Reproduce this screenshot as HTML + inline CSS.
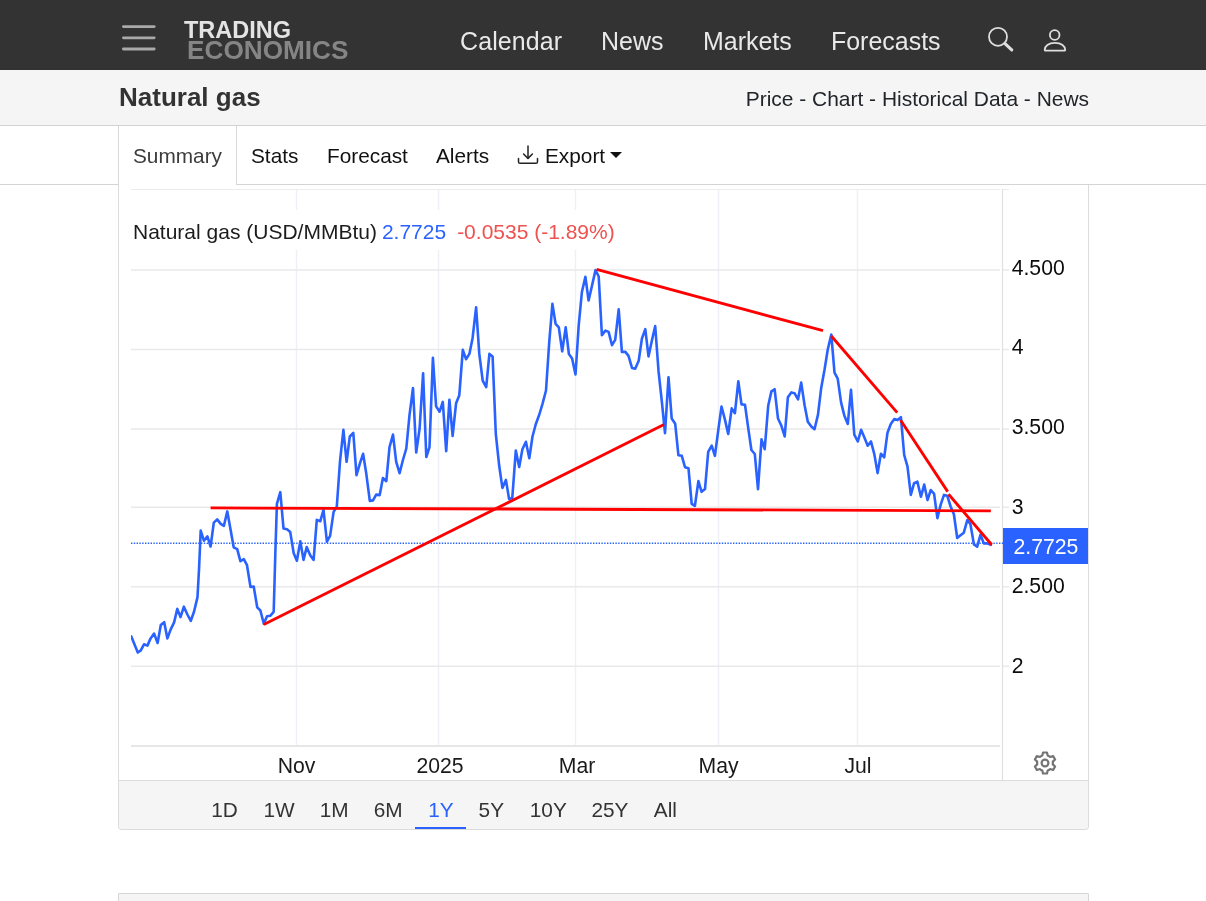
<!DOCTYPE html>
<html lang="en"><head><meta charset="utf-8"><title>Natural gas - Price - Chart - Historical Data - News</title>
<style>
html,body{margin:0;padding:0}
body{width:1206px;height:901px;overflow:hidden;background:#fff;font-family:"Liberation Sans",Arial,sans-serif;color:#212529;position:relative}
.abs{position:absolute}
#top{position:absolute;left:0;top:0;width:1206px;height:70px;background:#333}
.nav{position:absolute;top:27px;font-size:24.96px;line-height:28px;color:#e9e9e9;white-space:nowrap}
.logo1{position:absolute;left:184px;top:17px;font-weight:bold;font-size:23.5px;line-height:26px;color:#e4e4e4}
.logo2{position:absolute;left:187px;top:35px;font-weight:bold;font-size:26.2px;line-height:30px;color:#858585}
#sub{position:absolute;left:0;top:70px;width:1206px;height:55px;background:#f5f5f5;border-bottom:1px solid #d2d2d2}
#title{position:absolute;left:119px;top:82px;font-size:26px;line-height:30px;font-weight:bold;color:#333}
#crumbs{position:absolute;right:117px;top:86px;font-size:20.94px;line-height:26px;color:#212529;white-space:nowrap}
#tabline{position:absolute;left:0;top:184px;width:1206px;height:1px;background:#d4d4d4}
#acttab{position:absolute;left:118px;top:126px;width:119px;height:59px;background:#fff;border-left:1px solid #d9d9d9;border-right:1px solid #d9d9d9;box-sizing:border-box}
.tab{position:absolute;top:143px;font-size:20.8px;line-height:26px;color:#111;white-space:nowrap}
#card{position:absolute;left:118px;top:185px;width:971px;height:645px;box-sizing:border-box;border:1px solid #dcdcdc;border-top:none;border-radius:0 0 4px 4px;background:#fff}
#foot{position:absolute;left:119px;top:780px;width:969px;height:49px;background:#f5f5f5;border-top:1px solid #dcdcdc;box-sizing:border-box;border-radius:0 0 4px 4px}
.rb{position:absolute;top:797.5px;font-size:20.8px;line-height:24px;color:#333;white-space:nowrap;transform:translateX(-50%)}
.rb.act{color:#2962ff}
#under{position:absolute;left:415px;top:827px;width:51px;height:2px;background:#2962ff}
#card2{position:absolute;left:118px;top:893px;width:971px;height:30px;box-sizing:border-box;border:1px solid #d6d6d6;background:#f5f5f5;border-radius:1px 1px 0 0}
svg.chart{position:absolute;left:0;top:0}
.ax{font-family:"Liberation Sans",Arial,sans-serif;font-size:21.2px}
</style></head><body>
<div id="top"></div>
<svg class="abs" style="left:118px;top:20.4px" width="42" height="36" viewBox="0 0 42 36"><g stroke="#a9a9a9" stroke-width="2.8" stroke-linecap="round"><line x1="5.4" y1="6.6" x2="36.2" y2="6.6"/><line x1="5.4" y1="17.8" x2="36.2" y2="17.8"/><line x1="5.4" y1="29" x2="36.2" y2="29"/></g></svg>
<div class="logo1">TRADING</div>
<div class="logo2">ECONOMICS</div>
<div class="nav" style="left:460px;letter-spacing:0.12px">Calendar</div>
<div class="nav" style="left:601px">News</div>
<div class="nav" style="left:703px">Markets</div>
<div class="nav" style="left:831px">Forecasts</div>
<svg class="abs" style="left:985px;top:24px" width="32" height="32" viewBox="0 0 32 32" fill="none" stroke="#dedede" stroke-linecap="round"><circle cx="13" cy="12.8" r="9" stroke-width="1.8"/><line x1="20" y1="19.6" x2="26.7" y2="25.8" stroke-width="3.2"/></svg>
<svg class="abs" style="left:1040px;top:24px" width="32" height="32" viewBox="0 0 32 32" fill="none" stroke="#dedede" stroke-width="1.8" stroke-linejoin="round"><circle cx="14.7" cy="11" r="4.8"/><path d="M5.5 26.7H24.4Q25.2 26.7 25.2 25.9C25.2 22 21.5 18.9 14.95 18.9C8.4 18.9 4.7 22 4.7 25.9Q4.7 26.7 5.5 26.7Z"/></svg>
<div id="sub"></div>
<div id="title">Natural gas</div>
<div id="crumbs">Price - Chart - Historical Data - News</div>
<div id="tabline"></div>
<div id="acttab"></div>
<div class="tab" style="left:133px;color:#3c3c3c">Summary</div>
<div class="tab" style="left:251px">Stats</div>
<div class="tab" style="left:327px">Forecast</div>
<div class="tab" style="left:436px">Alerts</div>
<svg class="abs" style="left:516px;top:143px" width="24" height="24" viewBox="0 0 24 24" fill="none" stroke="#222" stroke-width="1.5" stroke-linecap="round" stroke-linejoin="round"><path d="M2.5 15.6v3.1a1.6 1.6 0 0 0 1.6 1.6h15.8a1.6 1.6 0 0 0 1.6-1.6v-3.1"/><path d="M12 3v12"/><path d="M7.6 11l4.4 4.4 4.4-4.4"/></svg>
<div class="tab" style="left:545px">Export</div>
<div class="abs" style="left:610px;top:152px;width:0;height:0;border-left:6px solid transparent;border-right:6px solid transparent;border-top:6px solid #111"></div>
<div id="card"></div>
<div id="foot"></div>
<svg class="chart" width="1206" height="901" viewBox="0 0 1206 901">
<line x1="131" y1="189.5" x2="1000" y2="189.5" stroke="#ececec" stroke-width="1"/>
<line x1="1003" y1="189.5" x2="1009" y2="189.5" stroke="#ececec" stroke-width="1"/>
<line x1="296.5" y1="190" x2="296.5" y2="745" stroke="#edf1f6" stroke-width="1.4"/>
<line x1="438.5" y1="190" x2="438.5" y2="745" stroke="#edf1f6" stroke-width="1.4"/>
<line x1="575.5" y1="190" x2="575.5" y2="745" stroke="#edf1f6" stroke-width="1.4"/>
<line x1="718.5" y1="190" x2="718.5" y2="745" stroke="#edf1f6" stroke-width="1.4"/>
<line x1="857.5" y1="190" x2="857.5" y2="745" stroke="#edf1f6" stroke-width="1.4"/>
<line x1="131" y1="270" x2="1000" y2="270" stroke="#e9e9e9" stroke-width="1.5"/>
<line x1="1003" y1="270" x2="1009" y2="270" stroke="#e9e9e9" stroke-width="1.5"/>
<line x1="131" y1="349.5" x2="1000" y2="349.5" stroke="#e9e9e9" stroke-width="1.5"/>
<line x1="1003" y1="349.5" x2="1009" y2="349.5" stroke="#e9e9e9" stroke-width="1.5"/>
<line x1="131" y1="429" x2="1000" y2="429" stroke="#e9e9e9" stroke-width="1.5"/>
<line x1="1003" y1="429" x2="1009" y2="429" stroke="#e9e9e9" stroke-width="1.5"/>
<line x1="131" y1="507.3" x2="1000" y2="507.3" stroke="#e9e9e9" stroke-width="1.5"/>
<line x1="1003" y1="507.3" x2="1009" y2="507.3" stroke="#e9e9e9" stroke-width="1.5"/>
<line x1="131" y1="586.7" x2="1000" y2="586.7" stroke="#e9e9e9" stroke-width="1.5"/>
<line x1="1003" y1="586.7" x2="1009" y2="586.7" stroke="#e9e9e9" stroke-width="1.5"/>
<line x1="131" y1="666.2" x2="1000" y2="666.2" stroke="#e9e9e9" stroke-width="1.5"/>
<line x1="1003" y1="666.2" x2="1009" y2="666.2" stroke="#e9e9e9" stroke-width="1.5"/>
<line x1="131" y1="746" x2="1000" y2="746" stroke="#e6e6e6" stroke-width="2"/>
<line x1="1002.5" y1="189" x2="1002.5" y2="780" stroke="#e0e0e0" stroke-width="1.2"/>
<rect x="131" y="210" width="490" height="40" fill="#fff"/>
<line x1="131" y1="543.3" x2="1003" y2="543.3" stroke="#2962ff" stroke-width="1.5" stroke-dasharray="1.4 1.4"/>
<clipPath id="pane"><rect x="131" y="190" width="870" height="556"/></clipPath>
<polyline clip-path="url(#pane)" points="131.2,636.3 137.8,652.5 140.8,650.4 144.0,644.3 147.4,645.6 150.6,638.4 154.1,633.6 157.6,643.0 160.8,625.1 164.2,622.2 167.4,638.4 170.6,629.6 174.1,622.4 177.3,608.9 180.5,617.1 183.9,606.7 187.4,614.5 190.8,620.8 194.0,611.8 197.5,597.1 199.1,567.8 200.7,530.6 203.9,540.7 207.4,536.4 210.6,546.5 213.8,522.6 217.2,519.4 220.7,523.9 223.9,525.8 227.3,511.4 230.5,529.2 233.7,547.3 237.2,549.2 240.4,561.2 243.8,559.1 247.0,565.2 250.5,587.0 253.7,586.5 257.2,607.3 260.4,610.5 263.8,623.8 267.0,616.3 270.2,615.8 273.7,611.8 275.3,554.5 276.9,503.9 280.3,492.2 283.5,528.4 287.0,529.2 290.2,531.9 293.7,553.2 296.9,560.7 300.3,541.2 303.5,559.9 306.7,547.1 310.2,555.3 313.6,559.9 316.8,519.9 320.3,521.2 323.5,509.8 326.9,541.7 330.1,535.9 333.6,511.9 336.8,506.6 340.0,461.3 343.4,429.8 346.6,461.8 349.8,436.5 353.3,433.0 356.5,475.1 360.0,463.1 363.1,453.8 366.3,473.8 369.8,500.9 373.0,500.4 376.2,494.6 379.7,495.1 382.9,478.0 386.3,481.2 389.5,447.1 393.0,434.6 396.2,461.8 399.6,473.2 402.8,460.5 406.3,448.5 409.5,415.2 413.0,388.0 416.2,452.5 419.6,428.5 423.1,373.4 426.3,457.0 429.5,447.1 432.9,357.9 436.1,406.4 439.6,411.7 442.8,401.9 446.2,451.1 449.4,399.7 452.6,436.0 456.1,403.2 459.3,395.2 462.8,349.9 466.0,359.2 469.4,353.9 472.6,337.9 476.1,307.3 479.3,353.9 482.7,380.6 486.2,387.2 489.4,353.9 492.6,356.6 495.8,433.8 499.2,465.8 502.4,487.9 505.9,479.9 509.1,499.1 512.3,497.7 515.8,450.6 519.2,467.1 522.4,449.3 525.9,441.8 529.3,458.3 532.5,436.5 535.7,424.5 539.3,414.5 542.5,403.8 546.0,390.5 549.2,342.6 552.4,303.9 555.6,323.9 558.8,327.4 562.2,351.4 565.7,327.4 568.9,354.0 572.1,358.5 575.5,374.5 578.7,325.3 581.9,292.0 585.4,276.8 588.6,300.5 592.1,285.3 595.5,270.1 598.7,276.5 601.9,335.1 605.4,330.6 608.6,331.9 612.0,345.2 615.2,339.9 618.7,309.3 621.9,351.9 625.4,351.9 628.5,355.9 632.0,367.9 635.2,368.7 638.7,360.7 641.9,338.6 645.3,329.2 648.5,356.4 652.0,339.9 655.2,326.1 658.6,371.9 661.8,401.2 665.0,433.1 668.5,377.2 671.7,418.5 675.2,423.8 678.4,455.2 681.8,455.8 685.0,467.2 688.5,468.3 691.7,503.8 694.9,505.9 698.4,481.1 701.6,491.8 705.0,489.1 708.2,451.8 711.7,445.7 714.9,455.8 718.4,429.2 721.5,406.6 725.0,419.9 728.2,434.0 731.7,408.4 734.9,413.2 738.3,381.3 741.5,404.4 745.0,404.7 748.2,427.9 751.4,450.0 754.8,454.0 758.0,489.1 761.5,439.3 764.7,449.2 768.2,405.8 771.4,391.4 774.6,389.2 778.0,418.5 781.2,425.2 784.7,436.4 787.9,397.2 791.3,392.4 794.5,393.2 798.0,399.4 801.2,382.6 804.6,405.2 807.8,421.7 811.3,426.5 814.5,429.2 818.0,414.6 821.2,387.9 824.6,369.3 827.8,349.3 831.3,334.6 834.5,372.7 837.7,378.6 841.1,402.6 844.3,415.4 847.8,423.9 851.0,389.8 854.3,434.7 857.8,441.5 861.1,429.8 864.4,437.6 867.7,445.7 871.0,441.5 874.3,454.1 877.6,473.1 880.9,453.7 884.2,457.4 887.5,432.7 890.8,424.0 894.3,419.1 897.6,420.1 900.9,417.2 904.2,455.0 907.5,466.7 910.8,494.9 914.1,483.2 917.4,481.7 920.9,496.8 924.2,484.6 927.5,500.1 930.8,490.0 934.1,493.9 937.4,518.2 940.7,504.6 944.0,494.9 947.3,495.8 950.6,506.5 953.9,514.3 957.2,538.0 960.5,535.2 963.8,532.7 967.3,520.1 970.4,524.0 973.9,544.4 977.2,546.7 980.5,534.7 983.8,543.4 987.1,543.4 990.8,544.8" fill="none" stroke="#2962ff" stroke-width="2.6" stroke-linejoin="round" stroke-linecap="round"/>
<line x1="210.6" y1="507.9" x2="990.8" y2="510.8" stroke="#f00" stroke-width="2.85"/>
<line x1="263.8" y1="624.6" x2="664" y2="424.6" stroke="#f00" stroke-width="2.85"/>
<line x1="596.6" y1="269.3" x2="823" y2="330.7" stroke="#f00" stroke-width="2.85"/>
<line x1="831.3" y1="336" x2="897.2" y2="412.6" stroke="#f00" stroke-width="2.85"/>
<line x1="900.5" y1="420" x2="947.7" y2="491.6" stroke="#f00" stroke-width="2.85"/>
<line x1="948.6" y1="494.3" x2="991.7" y2="544.8" stroke="#f00" stroke-width="2.85"/>
<rect x="1003" y="528" width="85" height="36" fill="#2962ff"/>
<text x="1013.5" y="553.9" fill="#fff" class="ax">2.7725</text>
<text x="1011.7" y="274.9" fill="#0c0c0c" class="ax">4.500</text>
<text x="1011.7" y="354.2" fill="#0c0c0c" class="ax">4</text>
<text x="1011.7" y="433.8" fill="#0c0c0c" class="ax">3.500</text>
<text x="1011.7" y="514.1" fill="#0c0c0c" class="ax">3</text>
<text x="1011.7" y="592.8" fill="#0c0c0c" class="ax">2.500</text>
<text x="1011.7" y="672.8" fill="#0c0c0c" class="ax">2</text>
<text x="296.5" y="773" fill="#1a1a1a" class="ax" text-anchor="middle">Nov</text>
<text x="440" y="773" fill="#1a1a1a" class="ax" text-anchor="middle">2025</text>
<text x="577" y="773" fill="#1a1a1a" class="ax" text-anchor="middle">Mar</text>
<text x="718.5" y="773" fill="#1a1a1a" class="ax" text-anchor="middle">May</text>
<text x="858" y="773" fill="#1a1a1a" class="ax" text-anchor="middle">Jul</text>
<text x="133" y="238.5" class="ax" style="font-size:21px"><tspan fill="#1c1c1c">Natural gas (USD/MMBtu)</tspan><tspan fill="#2962ff" dx="5">2.7725</tspan><tspan fill="#ee5250" dx="11">-0.0535 (-1.89%)</tspan></text>
<g fill="none" stroke="#747474" stroke-width="2.2" stroke-linejoin="round"><path d="M1042.30 755.58L1043.03 752.48L1046.97 752.48L1047.70 755.58A7.9 7.9 0 0 1 1050.08 756.95L1053.13 756.04L1055.09 759.44L1052.78 761.63A7.9 7.9 0 0 1 1052.78 764.37L1055.09 766.56L1053.13 769.96L1050.08 769.05A7.9 7.9 0 0 1 1047.70 770.42L1046.97 773.52L1043.03 773.52L1042.30 770.42A7.9 7.9 0 0 1 1039.92 769.05L1036.87 769.96L1034.91 766.56L1037.22 764.37A7.9 7.9 0 0 1 1037.22 761.63L1034.91 759.44L1036.87 756.04L1039.92 756.95A7.9 7.9 0 0 1 1042.30 755.58Z"/><circle cx="1045" cy="763" r="3.4"/></g>
</svg>
<span class="rb" style="left:224.5px">1D</span><span class="rb" style="left:279px">1W</span><span class="rb" style="left:334.1px">1M</span><span class="rb" style="left:388.2px">6M</span><span class="rb act" style="left:440.9px">1Y</span><span class="rb" style="left:491.3px">5Y</span><span class="rb" style="left:548.3px">10Y</span><span class="rb" style="left:610px">25Y</span><span class="rb" style="left:665.4px">All</span>
<div id="under"></div>
<div id="card2"></div>
</body></html>
